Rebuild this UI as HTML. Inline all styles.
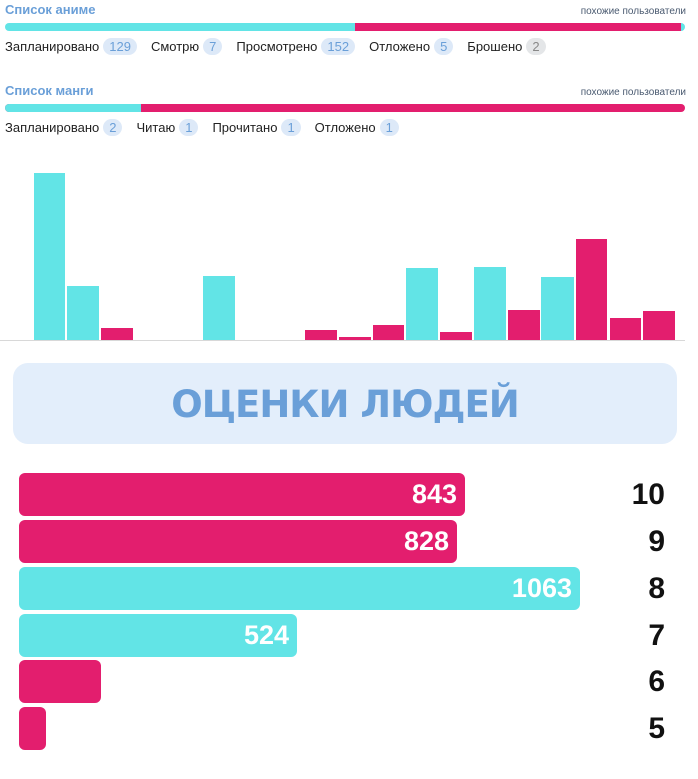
<!DOCTYPE html>
<html><head><meta charset="utf-8"><style>
body{margin:0;width:698px;height:779px;background:#fff;font-family:"Liberation Sans",sans-serif;position:relative;overflow:hidden}
.a{position:absolute}
.t{font-weight:bold;font-size:13px;color:#6a9fd8}
.s{font-size:10px;color:#4a5a70}
.row{position:absolute;left:5px;font-size:13px;color:#222;display:flex;align-items:center;white-space:nowrap}
.b{display:inline-block;background:#dde9f8;color:#6a9fd8;border-radius:10px;padding:1px 6px;margin:0 14px 0 4px;font-size:13px}
.g{background:#e4e6e8;color:#888}
.hb{position:absolute;left:19px;height:43px;border-radius:6px;color:#fff;font-weight:bold;font-size:27px;text-align:right;box-sizing:border-box;padding-right:8px;line-height:43px}
.p{background:#e31e6e}.c{background:#62e4e6}
.n{position:absolute;right:33px;font-weight:bold;font-size:30px;color:#111;line-height:43px}
</style></head><body>
<div class="a t" style="left:5px;top:2px">Список аниме</div>
<div class="a s" style="right:12px;top:6px">похожие пользователи</div>
<div class="a" style="left:5px;top:23px;width:680px;height:8px;border-radius:4px;overflow:hidden;background:#62e4e6"><div class="a" style="left:350px;width:326px;height:8px;background:#e31e6e"></div></div>
<div class="row" style="top:38px">Запланировано<span class="b">129</span>Смотрю<span class="b">7</span>Просмотрено<span class="b">152</span>Отложено<span class="b">5</span>Брошено<span class="b g">2</span></div>
<div class="a t" style="left:5px;top:83px">Список манги</div>
<div class="a s" style="right:12px;top:87px">похожие пользователи</div>
<div class="a" style="left:5px;top:104px;width:680px;height:8px;border-radius:4px;overflow:hidden;background:#e31e6e"><div class="a" style="left:0;width:136px;height:8px;background:#62e4e6"></div></div>
<div class="row" style="top:119px">Запланировано<span class="b">2</span>Читаю<span class="b">1</span>Прочитано<span class="b">1</span>Отложено<span class="b">1</span></div>
<svg class="a" style="left:0;top:0" width="698" height="350">
<g fill="#62e4e6"><rect x="34" y="173" width="31" height="167"/><rect x="67" y="286" width="32" height="54"/><rect x="203" y="276" width="32" height="64"/><rect x="406" y="268" width="32" height="72"/><rect x="474" y="267" width="32" height="73"/><rect x="541" y="277" width="33" height="63"/></g>
<g fill="#e31e6e"><rect x="101" y="328" width="32" height="12"/><rect x="305" y="330" width="32" height="10"/><rect x="339" y="337" width="32" height="3"/><rect x="373" y="325" width="31" height="15"/><rect x="440" y="332" width="32" height="8"/><rect x="508" y="310" width="32" height="30"/><rect x="576" y="239" width="31" height="101"/><rect x="610" y="318" width="31" height="22"/><rect x="643" y="311" width="32" height="29"/></g>
<line x1="0" y1="340.5" x2="685" y2="340.5" stroke="#d8d8d8"/>
</svg>
<div class="a" style="left:13px;top:363px;width:664px;height:81px;background:#e3eefb;border-radius:15px;text-align:center;line-height:84px;font-weight:bold;font-size:37px;color:#6a9fd8;font-family:'DejaVu Sans',sans-serif;letter-spacing:-1px">ОЦЕНКИ ЛЮДЕЙ</div>
<div class="hb p" style="top:473px;width:446px">843</div><div class="n" style="top:473px">10</div>
<div class="hb p" style="top:520px;width:438px">828</div><div class="n" style="top:520px">9</div>
<div class="hb c" style="top:567px;width:561px">1063</div><div class="n" style="top:567px">8</div>
<div class="hb c" style="top:614px;width:278px">524</div><div class="n" style="top:614px">7</div>
<div class="hb p" style="top:660px;width:82px"></div><div class="n" style="top:660px">6</div>
<div class="hb p" style="top:707px;width:27px"></div><div class="n" style="top:707px">5</div>
</body></html>
